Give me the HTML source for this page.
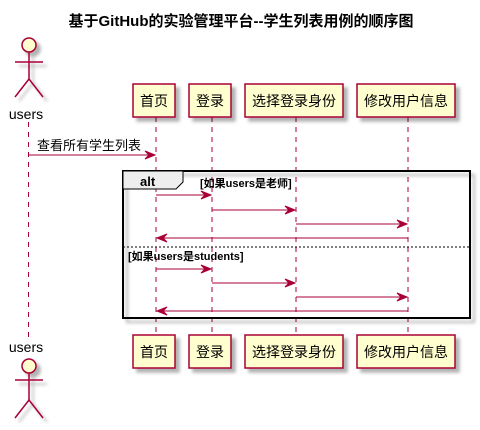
<!DOCTYPE html>
<html><head><meta charset="utf-8"><style>body{margin:0;background:#fff}</style></head><body>
<svg width="480" height="425" xmlns="http://www.w3.org/2000/svg" font-family="Liberation Sans, Noto Sans CJK SC, sans-serif">
<defs><filter id="s" x="-20%" y="-20%" width="150%" height="150%"><feDropShadow dx="4" dy="4" stdDeviation="1.5" flood-color="#000" flood-opacity="0.3"/></filter></defs>
<text x="241" y="26" text-anchor="middle" font-size="15" font-weight="bold">基于GitHub的实验管理平台--学生列表用例的顺序图</text>
<g stroke="#A80036" stroke-dasharray="5,5" stroke-width="1">
<line x1="28.5" y1="122" x2="28.5" y2="337"/><line x1="156" y1="117" x2="156" y2="335"/><line x1="212" y1="117" x2="212" y2="335"/><line x1="296" y1="117" x2="296" y2="335"/><line x1="408" y1="117" x2="408" y2="335"/>
</g>
<g fill="#FEFECE" stroke="#A80036" stroke-width="1.5" filter="url(#s)">
<rect x="133" y="84" width="42" height="33"/><rect x="189" y="84" width="42" height="33"/><rect x="245" y="84" width="98" height="33"/><rect x="357" y="84" width="98" height="33"/>
<rect x="133" y="335" width="42" height="33"/><rect x="189" y="335" width="42" height="33"/><rect x="245" y="335" width="98" height="33"/><rect x="357" y="335" width="98" height="33"/>
</g>
<g font-size="14" text-anchor="middle">
<text x="154" y="106">首页</text><text x="210" y="106">登录</text><text x="294" y="106">选择登录身份</text><text x="406" y="106">修改用户信息</text>
<text x="154" y="357">首页</text><text x="210" y="357">登录</text><text x="294" y="357">选择登录身份</text><text x="406" y="357">修改用户信息</text>
<text x="26" y="119">users</text><text x="26" y="352">users</text>
</g>
<g stroke="#A80036" stroke-width="1.5" fill="none" filter="url(#s)">
<circle cx="29" cy="45" r="7" fill="#FEFECE"/><line x1="29" y1="52" x2="29" y2="79"/><line x1="15" y1="62" x2="43" y2="62"/><polyline points="15,97 29,79 43,97"/>
<circle cx="29" cy="366" r="7" fill="#FEFECE"/><line x1="29" y1="373" x2="29" y2="400"/><line x1="15" y1="380" x2="43" y2="380"/><polyline points="15,418 29,400 43,418"/>
</g>
<rect x="123" y="171" width="347" height="147" fill="none" stroke="#000" stroke-width="2" filter="url(#s)"/>
<path d="M123,171 H183 V182 L176,189 H123 Z" fill="#EEEEEE" stroke="#000" stroke-width="1"/>
<text x="140" y="186" font-size="13" font-weight="bold">alt</text>
<text x="200" y="187" font-size="11" font-weight="bold">[如果users是老师]</text>
<line x1="123" y1="247" x2="470" y2="247" stroke="#000" stroke-dasharray="2,2"/>
<text x="128" y="260" font-size="11" font-weight="bold">[如果users是students]</text>
<text x="37" y="150" font-size="13">查看所有学生列表</text>
<g stroke="#A80036" stroke-width="1" fill="#A80036">
<line x1="29" y1="155" x2="155" y2="155"/><path d="M155,155 l-10,-4 l4,4 l-4,4 z"/>
<line x1="156" y1="195" x2="211" y2="195"/><path d="M211,195 l-10,-4 l4,4 l-4,4 z"/>
<line x1="212" y1="210" x2="295" y2="210"/><path d="M295,210 l-10,-4 l4,4 l-4,4 z"/>
<line x1="296" y1="224" x2="407" y2="224"/><path d="M407,224 l-10,-4 l4,4 l-4,4 z"/>
<line x1="157" y1="238" x2="408" y2="238"/><path d="M157,238 l10,-4 l-4,4 l4,4 z"/>
<line x1="156" y1="269" x2="211" y2="269"/><path d="M211,269 l-10,-4 l4,4 l-4,4 z"/>
<line x1="212" y1="283" x2="295" y2="283"/><path d="M295,283 l-10,-4 l4,4 l-4,4 z"/>
<line x1="296" y1="297" x2="407" y2="297"/><path d="M407,297 l-10,-4 l4,4 l-4,4 z"/>
<line x1="157" y1="311" x2="408" y2="311"/><path d="M157,311 l10,-4 l-4,4 l4,4 z"/>
</g>
</svg>
</body></html>
